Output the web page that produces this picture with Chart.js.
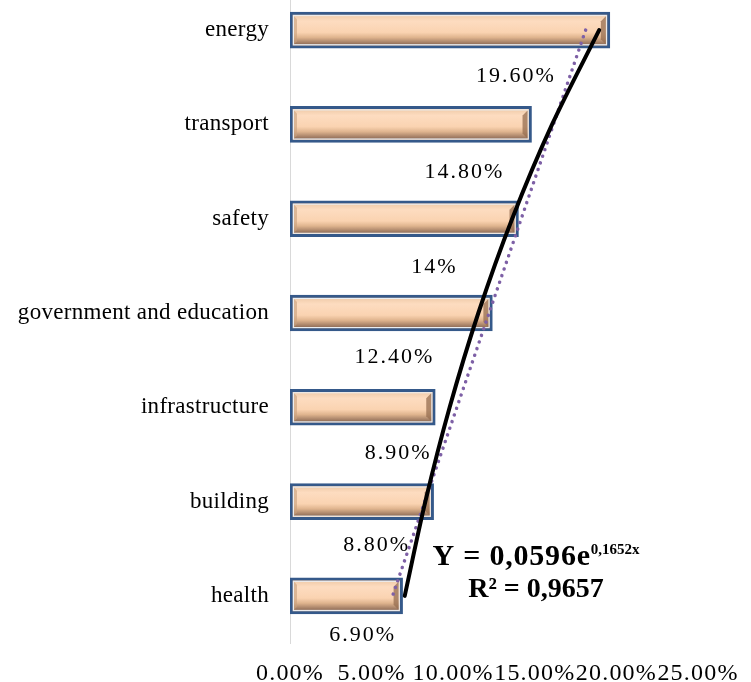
<!DOCTYPE html>
<html>
<head>
<meta charset="utf-8">
<script src="https://cdn.jsdelivr.net/npm/chart.js@4.4.0/dist/chart.umd.min.js"></script>
<style>
  html, body { margin: 0; padding: 0; background: #fff; overflow: hidden; width: 751px; height: 682px; }
  #wrap { position: absolute; left: 0; top: -17px; width: 751px; height: 704px; }
</style>
</head>
<body>
<div id="wrap"><canvas id="c" width="751" height="704"></canvas></div>
<script>
// Share of projects by sector (top to bottom)
const sectors = ['energy', 'transport', 'safety', 'government and education', 'infrastructure', 'building', 'health'];
const shares = [19.6, 14.8, 14, 12.4, 8.9, 8.8, 6.9];
const axisTicks = [0, 5, 10, 15, 20, 25];

// Exponential trend as printed on the chart: y = a * e^(b x), x = 1 for the lowest bar
const expA = 0.0596;
const expB = 0.1652;
const rSquared = 0.9657;

const n = sectors.length;
const trendX = sectors.map((_, i) => n - i);
const expTrend = trendX.map(x => expA * Math.exp(expB * x) * 100);

// Least-squares straight line through the same points
const meanX = trendX.reduce((s, v) => s + v, 0) / n;
const meanY = shares.reduce((s, v) => s + v, 0) / n;
let sxy = 0, sxx = 0;
trendX.forEach((x, i) => { sxy += (x - meanX) * (shares[i] - meanY); sxx += (x - meanX) * (x - meanX); });
const slope = sxy / sxx;
const linTrend = trendX.map(x => meanY + slope * (x - meanX));

const fmtShare = v => (Number.isInteger(v) ? String(v) : v.toFixed(2)) + '%';
const comma = v => String(v).replace('.', ',');

const SERIF = '"Liberation Serif", "Times New Roman", serif';

// Slightly spaced lettering for the axis tick labels
const spacedTicksPlugin = {
  id: 'spacedTicks',
  afterLayout(chart) {
    const spacing = { x: '1.2px', y: '0.3px' };
    Object.keys(spacing).forEach(id => {
      const scale = chart.scales[id];
      if (!scale || scale._spaced) return;
      const orig = scale.drawLabels;
      scale.drawLabels = function (area) {
        const ctx = this.ctx;
        ctx.save();
        ctx.letterSpacing = spacing[id];
        orig.call(this, area);
        ctx.restore();
      };
      scale._spaced = true;
    });
  }
};

// Raised, bevelled face painted over each bar
const bevelPlugin = {
  id: 'bevel',
  afterDatasetDraw(chart, args) {
    if (args.index !== 0) return;
    const ctx = chart.ctx;
    args.meta.data.forEach(bar => {
      const { x, y, base, height } = bar.getProps(['x', 'y', 'base', 'height'], true);
      const bw = 3;
      let l = Math.min(base, x) + bw, r = Math.max(base, x) - bw;
      let t = y - height / 2 + bw, b = y + height / 2 - bw;
      ctx.save();
      ctx.fillStyle = '#E9EEF3';
      ctx.fillRect(l, t, r - l, b - t);
      l += 1; r -= 1; t += 1; b -= 1;
      const g = ctx.createLinearGradient(0, t, 0, b);
      g.addColorStop(0, '#F2CEAD');
      g.addColorStop(0.18, '#FDDCC0');
      g.addColorStop(0.58, '#FAD3B1');
      g.addColorStop(0.76, '#DFB48E');
      g.addColorStop(1, '#93705A');
      ctx.fillStyle = g;
      ctx.fillRect(l, t, r - l, b - t);
      const e = 5;
      // right edge
      ctx.beginPath();
      ctx.moveTo(r, t); ctx.lineTo(r, b); ctx.lineTo(r - e, b - e); ctx.lineTo(r - e, t + e); ctx.closePath();
      ctx.fillStyle = 'rgba(150,110,80,0.75)';
      ctx.fill();
      // left edge
      ctx.beginPath();
      ctx.moveTo(l, t); ctx.lineTo(l, b); ctx.lineTo(l + 3, b - 3); ctx.lineTo(l + 3, t + 3); ctx.closePath();
      ctx.fillStyle = 'rgba(200,160,125,0.6)';
      ctx.fill();
      ctx.restore();
    });
  }
};

// Value labels set below and to the left of each bar end
const valueLabelPlugin = {
  id: 'valueLabels',
  afterDatasetsDraw(chart, args, opts) {
    const ctx = chart.ctx;
    const meta = chart.getDatasetMeta(0);
    ctx.save();
    ctx.font = '22px ' + SERIF;
    ctx.letterSpacing = '2px';
    ctx.fillStyle = '#000';
    ctx.textAlign = 'center';
    ctx.textBaseline = 'middle';
    meta.data.forEach((bar, i) => {
      const [dx, dy] = opts.offsets[i];
      ctx.fillText(fmtShare(shares[i]), bar.x + dx, bar.y + dy);
    });
    ctx.restore();
  }
};

// Trend equation and R² written beside the lower bars
const equationPlugin = {
  id: 'equation',
  afterDraw(chart, args, opts) {
    const ctx = chart.ctx;
    ctx.save();
    ctx.fillStyle = '#000';
    ctx.textBaseline = 'alphabetic';
    ctx.textAlign = 'left';
    const main = 'Y = ' + comma(expA) + 'e';
    const sup = comma(expB) + 'x';
    const mainFont = 'bold 30px ' + SERIF;
    const supFont = 'bold 15px ' + SERIF;
    ctx.font = mainFont;
    ctx.letterSpacing = '0.8px';
    const wMain = ctx.measureText(main).width;
    ctx.font = supFont;
    ctx.letterSpacing = '0px';
    const wSup = ctx.measureText(sup).width;
    const x0 = opts.cx - (wMain + wSup) / 2;
    ctx.font = mainFont;
    ctx.letterSpacing = '0.8px';
    ctx.fillText(main, x0, opts.y1);
    ctx.font = supFont;
    ctx.letterSpacing = '0px';
    ctx.fillText(sup, x0 + wMain, opts.y1 - 11);
    ctx.font = 'bold 28px ' + SERIF;
    ctx.letterSpacing = '0px';
    ctx.textAlign = 'center';
    ctx.fillText('R² = ' + comma(rSquared), opts.cx, opts.y2);
    ctx.restore();
  }
};

new Chart(document.getElementById('c'), {
  data: {
    labels: sectors,
    datasets: [
      {
        type: 'bar',
        data: shares,
        backgroundColor: '#FBD5B5',
        borderColor: '#35598A',
        borderWidth: 3,
        borderSkipped: false,
        barThickness: 36,
        order: 3
      },
      {
        type: 'line',
        indexAxis: 'y',
        data: linTrend,
        borderColor: '#7E60A6',
        borderWidth: 3.5,
        borderDash: [0.01, 7],
        borderCapStyle: 'round',
        pointRadius: 0,
        fill: false,
        order: 2
      },
      {
        type: 'line',
        indexAxis: 'y',
        data: expTrend,
        borderColor: '#000',
        borderWidth: 4,
        borderCapStyle: 'round',
        pointRadius: 0,
        tension: 0.3,
        cubicInterpolationMode: 'monotone',
        fill: false,
        order: 1
      }
    ]
  },
  options: {
    indexAxis: 'y',
    responsive: false,
    animation: false,
    devicePixelRatio: 1,
    layout: { padding: { left: 0, top: 0, right: 53, bottom: 0 } },
    plugins: {
      legend: { display: false },
      tooltip: { enabled: false },
      valueLabels: {
        offsets: [[-94, 46], [-67, 48], [-84, 49], [-98, 44], [-37, 46], [-57, 44], [-40, 39]]
      },
      equation: { cx: 536, y1: 582, y2: 614 }
    },
    scales: {
      x: {
        type: 'linear',
        min: 0,
        max: 25,
        afterBuildTicks: s => { s.ticks = axisTicks.map(v => ({ value: v })); },
        afterFit: s => { s.height = 44; s.paddingLeft = 0; s.paddingRight = 0; },
        grid: { display: false, drawTicks: false },
        border: { display: false },
        ticks: {
          autoSkip: false,
          maxRotation: 0,
          padding: 16,
          color: '#000',
          font: { family: SERIF, size: 24 },
          callback: v => Number(v).toFixed(2) + '%'
        }
      },
      y: {
        type: 'category',
        afterFit: s => { s.width = 290; s.paddingTop = 0; s.paddingBottom = 0; },
        grid: { display: false, drawTicks: false },
        border: { display: true, color: '#D9D9D9', width: 1 },
        ticks: {
          padding: 21,
          color: '#000',
          font: { family: SERIF, size: 23 }
        }
      }
    }
  },
  plugins: [spacedTicksPlugin, bevelPlugin, valueLabelPlugin, equationPlugin]
});
</script>
</body>
</html>
